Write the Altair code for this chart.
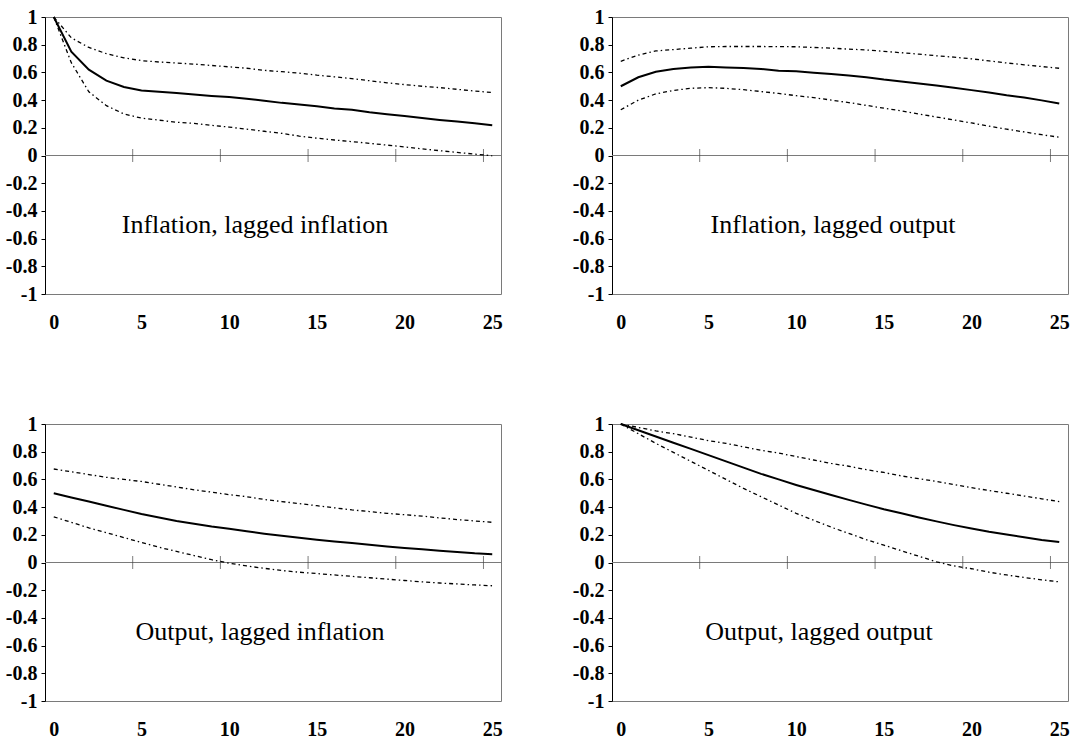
import altair as alt
import pandas as pd

# Horizon (periods) shared by all four impulse responses
steps = list(range(26))

# Inflation response to lagged inflation
ii_mid = [1.0, 0.75, 0.62, 0.54, 0.495, 0.47, 0.46, 0.452, 0.44, 0.43, 0.422, 0.41, 0.395,
          0.38, 0.368, 0.355, 0.34, 0.33, 0.312, 0.298, 0.285, 0.27, 0.257, 0.245, 0.232, 0.218]
ii_hi = [1.0, 0.85, 0.78, 0.735, 0.705, 0.685, 0.675, 0.668, 0.66, 0.65, 0.64, 0.63, 0.615,
         0.605, 0.595, 0.58, 0.568, 0.555, 0.54, 0.525, 0.512, 0.50, 0.49, 0.478, 0.465, 0.455]
ii_lo = [1.0, 0.67, 0.46, 0.36, 0.30, 0.27, 0.255, 0.24, 0.232, 0.218, 0.205, 0.19, 0.175,
         0.16, 0.14, 0.125, 0.112, 0.10, 0.088, 0.075, 0.062, 0.048, 0.035, 0.022, 0.01, -0.002]

# Inflation response to lagged output
io_mid = [0.5, 0.565, 0.605, 0.625, 0.635, 0.64, 0.635, 0.632, 0.625, 0.612, 0.608, 0.598, 0.588,
          0.578, 0.565, 0.548, 0.535, 0.52, 0.505, 0.49, 0.472, 0.455, 0.435, 0.418, 0.398, 0.375]
io_hi = [0.68, 0.725, 0.755, 0.765, 0.775, 0.785, 0.787, 0.787, 0.787, 0.786, 0.785, 0.78, 0.775,
         0.768, 0.762, 0.752, 0.742, 0.732, 0.72, 0.71, 0.698, 0.683, 0.668, 0.655, 0.642, 0.63]
io_lo = [0.33, 0.40, 0.445, 0.47, 0.485, 0.49, 0.485, 0.475, 0.462, 0.448, 0.432, 0.418, 0.40,
         0.382, 0.362, 0.342, 0.322, 0.30, 0.278, 0.256, 0.235, 0.212, 0.19, 0.17, 0.15, 0.132]

# Output response to lagged inflation
oi_mid = [0.5, 0.47, 0.44, 0.41, 0.38, 0.35, 0.325, 0.30, 0.28, 0.26, 0.243, 0.225, 0.208,
          0.193, 0.178, 0.165, 0.152, 0.14, 0.128, 0.116, 0.105, 0.095, 0.085, 0.075, 0.066, 0.06]
oi_hi = [0.675, 0.655, 0.635, 0.615, 0.60, 0.585, 0.565, 0.545, 0.525, 0.508, 0.49, 0.475, 0.455,
         0.44, 0.425, 0.41, 0.395, 0.38, 0.368, 0.355, 0.345, 0.335, 0.322, 0.31, 0.30, 0.29]
oi_lo = [0.33, 0.29, 0.25, 0.215, 0.18, 0.145, 0.11, 0.08, 0.05, 0.02, -0.005, -0.025, -0.042,
         -0.058, -0.07, -0.08, -0.09, -0.10, -0.11, -0.12, -0.13, -0.14, -0.148, -0.155, -0.162, -0.168]

# Output response to lagged output
oo_mid = [1.0, 0.955, 0.91, 0.865, 0.82, 0.775, 0.73, 0.685, 0.64, 0.60, 0.56, 0.523, 0.487,
          0.452, 0.418, 0.385, 0.355, 0.325, 0.297, 0.27, 0.245, 0.222, 0.202, 0.182, 0.163, 0.148]
oo_hi = [1.0, 0.975, 0.95, 0.93, 0.905, 0.88, 0.86, 0.835, 0.81, 0.79, 0.765, 0.74, 0.715,
         0.695, 0.67, 0.65, 0.625, 0.605, 0.585, 0.562, 0.54, 0.52, 0.50, 0.48, 0.46, 0.44]
oo_lo = [1.0, 0.93, 0.86, 0.795, 0.73, 0.665, 0.60, 0.535, 0.475, 0.415, 0.355, 0.305, 0.255,
         0.21, 0.165, 0.125, 0.085, 0.045, 0.005, -0.025, -0.045, -0.07, -0.09, -0.108, -0.125, -0.14]

panel_titles = ["Inflation, lagged inflation", "Inflation, lagged output",
                "Output, lagged inflation", "Output, lagged output"]

y_ticks = [-1, -0.8, -0.6, -0.4, -0.2, 0, 0.2, 0.4, 0.6, 0.8, 1]
x_labels = [0, 5, 10, 15, 20, 25]
x_cross_ticks = [4.5, 9.5, 14.5, 19.5, 24.5]

W, H = 456, 277
SERIF = "Liberation Serif"
LABEL_SIZE = 20
BAND_DASH = [4, 3, 1.5, 3]

x_scale = alt.Scale(domain=[-0.5, 25.5], nice=False, zero=False)
y_scale = alt.Scale(domain=[-1, 1], nice=False)

x_axis = alt.Axis(values=x_labels, ticks=False, domain=False, grid=False, title=None,
                  labelPadding=18, labelFlush=False, labelOverlap=False,
                  labelFont=SERIF, labelFontWeight="bold", labelFontSize=LABEL_SIZE,
                  labelColor="black")
y_axis = alt.Axis(values=y_ticks, grid=False, title=None, labelOverlap=False,
                  minExtent=40, maxExtent=40, domainColor="black", tickColor="black",
                  tickSize=4, labelPadding=4, labelFont=SERIF, labelFontWeight="bold",
                  labelFontSize=LABEL_SIZE, labelColor="black",
                  labelExpr="(datum.value < 0 ? '-' : '') + format(abs(datum.value), '.1~f')")


def panel(title, mid, hi, lo, text_x):
    df = pd.DataFrame({
        "step": steps * 3,
        "value": mid + hi + lo,
        "series": ["mid"] * 26 + ["hi"] * 26 + ["lo"] * 26,
    })
    x = alt.X("step:Q", scale=x_scale, axis=x_axis)
    y = alt.Y("value:Q", scale=y_scale, axis=y_axis)

    base = alt.Chart(df).encode(x=x, y=y)

    bands = base.transform_filter(alt.datum.series != "mid").mark_line(
        color="black", strokeWidth=1.3, strokeDash=BAND_DASH).encode(detail="series:N")

    centre = base.transform_filter(alt.datum.series == "mid").mark_line(
        color="black", strokeWidth=2)

    # horizontal zero line with crossing ticks between category groups
    zero = alt.Chart(pd.DataFrame({"z": [0]})).mark_rule(
        color="#7a7a7a", strokeWidth=1).encode(y=alt.Y("z:Q", scale=y_scale, axis=y_axis))

    crosses = alt.Chart(pd.DataFrame({"t": x_cross_ticks, "z": [0] * 5})).mark_tick(
        orient="vertical", size=13, thickness=1, color="#444444").encode(
        x=alt.X("t:Q", scale=x_scale, axis=x_axis),
        y=alt.Y("z:Q", scale=y_scale, axis=y_axis))

    label = alt.Chart(pd.DataFrame({"t": [title]})).mark_text(
        font=SERIF, fontSize=26, color="black", align="center", baseline="middle",
        x=text_x, y=208).encode(text="t:N")

    return alt.layer(zero, crosses, bands, centre, label).properties(width=W, height=H)


top = alt.hconcat(panel(panel_titles[0], ii_mid, ii_hi, ii_lo, 210),
                  panel(panel_titles[1], io_mid, io_hi, io_lo, 221), spacing=68)
bottom = alt.hconcat(panel(panel_titles[2], oi_mid, oi_hi, oi_lo, 215),
                     panel(panel_titles[3], oo_mid, oo_hi, oo_lo, 207), spacing=68)

chart = (
    alt.vconcat(top, bottom, spacing=80)
    .properties(padding={"left": 4, "top": 6, "right": 5, "bottom": 5}, background="white")
    .configure_view(stroke="#7a7a7a", strokeWidth=1)
)

chart.save("out.html", embed_options={"renderer": "svg", "actions": False})
